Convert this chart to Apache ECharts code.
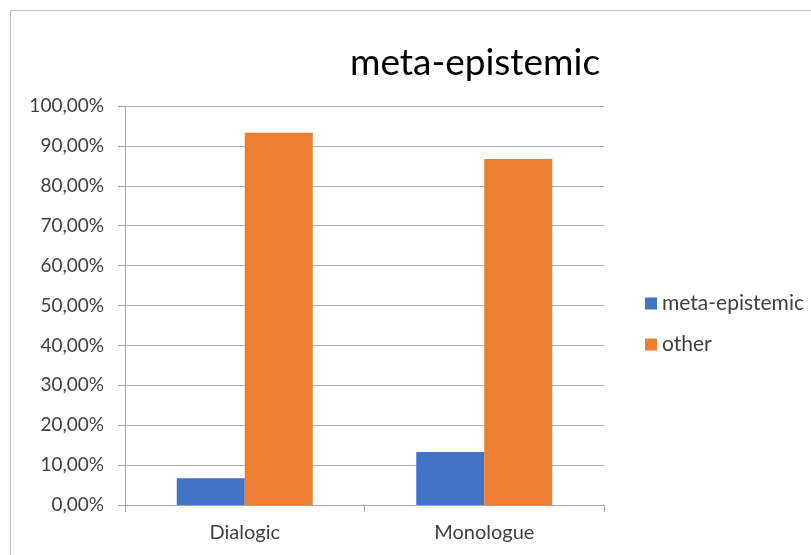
<!DOCTYPE html>
<html>
<head>
<meta charset="utf-8">
<script src="https://cdn.jsdelivr.net/npm/echarts@6/dist/echarts.min.js"></script>
<style>html,body{margin:0;padding:0;background:#fff}#c{width:811px;height:555px}</style>
</head>
<body>
<div id="c"></div>
<script>
var categories = ['Dialogic', 'Monologue'];
var metaEpistemic = [6.7, 13.3];
var other = [93.3, 86.7];
var seriesNames = ['meta-epistemic', 'other'];

var chart = echarts.init(document.getElementById('c'));
var font = 'Lato, "Open Sans", sans-serif';
chart.setOption({
  animation: false,
  backgroundColor: '#fff',
  title: {
    text: 'meta-epistemic',
    left: 470, top: 40, textAlign: 'center',
    textStyle: { fontFamily: font, fontSize: 37, fontWeight: 'normal', color: '#000' }
  },
  graphic: [{
    type: 'rect', shape: { x: 10.5, y: 10.5, width: 820, height: 560 },
    style: { fill: 'none', stroke: '#bfbfbf', lineWidth: 1 }, silent: true
  }],
  legend: {
    orient: 'vertical', left: 640, top: 288,
    itemWidth: 12, itemHeight: 12, itemGap: 20,
    icon: 'rect',
    textStyle: { fontFamily: font, fontSize: 21, color: '#404040' },
    data: seriesNames
  },
  grid: { left: 125, right: 207, top: 106, bottom: 50 },
  xAxis: {
    type: 'category', data: categories,
    axisLine: { lineStyle: { color: '#a6a6a6' } },
    axisTick: { show: true, length: 7, lineStyle: { color: '#a6a6a6' } },
    axisLabel: { fontFamily: font, fontSize: 20, color: '#404040', margin: 18 }
  },
  yAxis: {
    type: 'value', min: 0, max: 100, interval: 10,
    axisLine: { show: true, lineStyle: { color: '#a6a6a6' } },
    axisTick: { show: true, length: 7, lineStyle: { color: '#a6a6a6' } },
    splitLine: { lineStyle: { color: '#b0b0b0' } },
    axisLabel: {
      fontFamily: font, fontSize: 19, color: '#404040', margin: 21,
      formatter: function (v) { return v.toFixed(2).replace('.', ',') + '%'; }
    }
  },
  series: [
    { name: seriesNames[0], type: 'bar', data: metaEpistemic, barWidth: 68, barGap: '0%', itemStyle: { color: '#4472C4' } },
    { name: seriesNames[1], type: 'bar', data: other, barWidth: 68, barGap: '0%', itemStyle: { color: '#ED7D31' } }
  ]
});
</script>
</body>
</html>
